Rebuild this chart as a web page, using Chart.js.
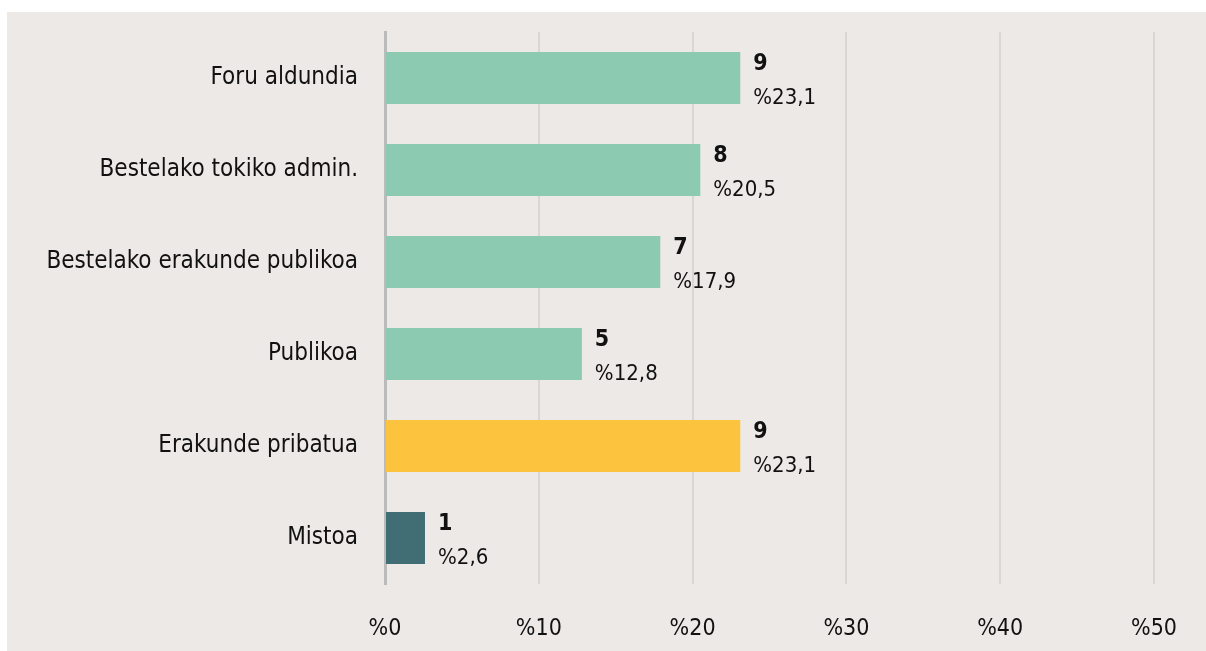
<!DOCTYPE html>
<html>
<head>
    <meta charset="UTF-8">
    <title>Erakunde motak</title>
    <script src="https://cdn.jsdelivr.net/npm/chart.js@4.4.0/dist/chart.umd.min.js"></script>
    <style>
        html, body { margin: 0; padding: 0; background: #ffffff; }
        #wrap { position: absolute; left: 7px; top: 12px; width: 1199px; height: 639px; background: #ede9e6; }
    </style>
</head>
<body>
    <div id="wrap">
        <canvas id="chart" width="1199" height="639"></canvas>
    </div>

    <script>
        // chart data
        var categories = ['Foru aldundia', 'Bestelako tokiko admin.', 'Bestelako erakunde publikoa', 'Publikoa', 'Erakunde pribatua', 'Mistoa'];
        var counts = [9, 8, 7, 5, 9, 1];
        var percents = [23.1, 20.5, 17.9, 12.8, 23.1, 2.6];
        var barColors = ['#8ccab1', '#8ccab1', '#8ccab1', '#8ccab1', '#fcc43e', '#406e74'];
        var xTicks = [0, 10, 20, 30, 40, 50];

        var FONT = "'Liberation Sans Narrow', 'DejaVu Sans Condensed', sans-serif";

        function fmtPct(v) {
            return '%' + String(v).replace('.', ',');
        }

        // draws the count and the percent next to each bar
        var barLabels = {
            id: 'barLabels',
            afterDatasetsDraw: function(chart) {
                var ctx = chart.ctx;
                var meta = chart.getDatasetMeta(0);
                ctx.save();
                ctx.fillStyle = '#111111';
                ctx.textAlign = 'left';
                ctx.textBaseline = 'middle';
                meta.data.forEach(function(bar, i) {
                    var x = bar.x + 13;
                    ctx.font = 'bold 23px ' + FONT;
                    ctx.fillText(counts[i], x, bar.y - 14);
                    ctx.font = '22px ' + FONT;
                    ctx.fillText(fmtPct(percents[i]), x, bar.y + 20);
                });
                ctx.restore();
            }
        };

        var ctx = document.getElementById('chart').getContext('2d');
        var myChart = new Chart(ctx, {
            type: 'bar',
            data: {
                labels: categories,
                datasets: [{
                    data: percents,
                    backgroundColor: barColors,
                    borderWidth: 0,
                    barPercentage: 0.565,
                    categoryPercentage: 1
                }]
            },
            options: {
                indexAxis: 'y',
                responsive: false,
                animation: false,
                layout: { padding: { top: 20, right: 52, left: 0, bottom: 0 } },
                plugins: {
                    legend: { display: false },
                    tooltip: { enabled: false }
                },
                scales: {
                    x: {
                        min: 0,
                        max: 50,
                        afterBuildTicks: function(scale) {
                            scale.ticks = xTicks.map(function(v) { return { value: v }; });
                        },
                        afterFit: function(scale) {
                            scale.height = 67;
                            scale.paddingLeft = 0;
                            scale.paddingRight = 0;
                        },
                        grid: { color: '#dad6d3', lineWidth: 2, drawTicks: false },
                        border: { display: false },
                        ticks: {
                            padding: 31,
                            color: '#111111',
                            font: { family: FONT, size: 23 },
                            callback: function(v) { return '%' + v; }
                        }
                    },
                    y: {
                        afterFit: function(scale) {
                            scale.width = 378;
                            scale.paddingTop = 0;
                            scale.paddingBottom = 0;
                        },
                        grid: { display: false, drawTicks: false },
                        border: { color: '#bbbbbb', width: 3 },
                        ticks: {
                            padding: 27,
                            color: '#111111',
                            font: { family: FONT, size: 24 }
                        }
                    }
                }
            },
            plugins: [barLabels]
        });
    </script>
</body>
</html>
